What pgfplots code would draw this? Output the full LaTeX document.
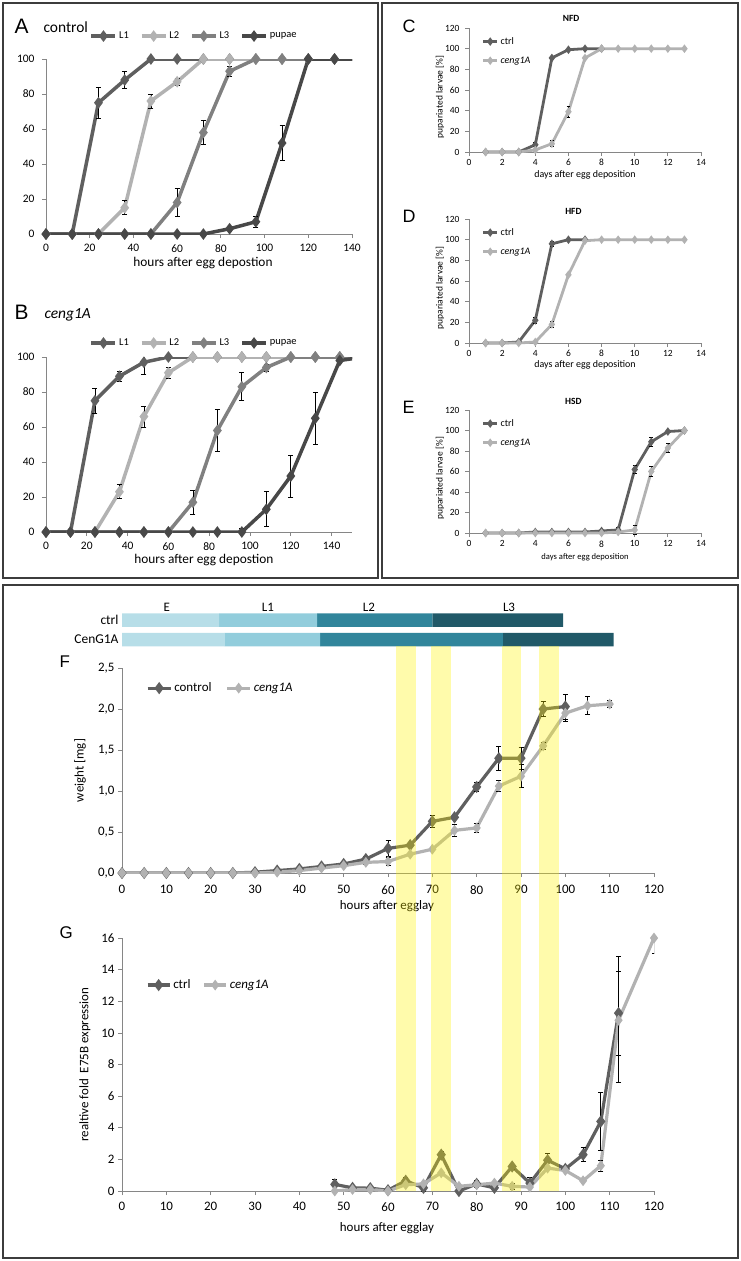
\documentclass[border=0pt]{standalone}
\usepackage{fontspec}
\setmainfont{Carlito}
\newfontfamily\panelfont{Liberation Sans}
\usepackage{pgfplots}
\pgfplotsset{compat=1.18}

\definecolor{cdark}{RGB}{95,95,95}
\definecolor{clight}{RGB}{178,178,178}
\definecolor{cmid}{RGB}{128,128,128}
\definecolor{cpup}{RGB}{72,72,72}
\definecolor{axgray}{RGB}{134,134,134}
\definecolor{boxgray}{RGB}{60,60,60}
\definecolor{phE}{RGB}{183,222,232}
\definecolor{phLa}{RGB}{146,205,220}
\definecolor{phLb}{RGB}{49,133,155}
\definecolor{phLc}{RGB}{33,89,104}
\definecolor{band}{RGB}{255,242,0}

\newcommand{\fs}[1]{\fontsize{#1}{#1}\selectfont}

\pgfplotsset{
  exc/.style={
    scale only axis, anchor=south west,
    axis x line*=bottom, axis y line*=left,
    axis line style={axgray, line width=0.8bp},
    tick style={axgray, line width=0.8bp},
    tick align=outside, major tick length=4bp,
    /pgf/number format/assume math mode=true,
    /pgf/number format/1000 sep={},
    legend style={draw=none, fill=none, inner sep=1bp},
    legend cell align=left,
    xlabel style={anchor=center}, ylabel style={anchor=center},
  },
  lgimg/.style={legend image code/.code={%
    \draw[mark repeat=2,mark phase=2,##1] plot coordinates {(0bp,0bp) (#1/2,0bp) (#1,0bp)};}},
  ebar/.style={draw=none, mark=none, forget plot,
    error bars/.cd, y dir=both, y explicit, error mark=-,
    error bar style={draw=black, solid, line width=0.7bp},
    error mark options={rotate=90, draw=black, solid, line width=0.7bp, mark size=#1}},
  ebar/.default=2.5bp,
}

\begin{document}
\begin{tikzpicture}[x=1bp,y=1bp]
\useasboundingbox (0,0) rectangle (741,-1261);
\draw[boxgray, line width=1.5bp] (3,-3) rectangle (378,-578);
\draw[boxgray, line width=1.5bp] (382,-3) rectangle (738,-578);
\draw[boxgray, line width=1.5bp] (3,-585) rectangle (738,-1258);

% ---------- A ----------
\node[anchor=base west, font=\panelfont\fs{21}] at (11,-33) {A};
\node[anchor=base west, font=\fs{15.5}] at (40,-32) {control};
\begin{axis}[exc, at={(46bp,-234bp)}, width=306bp, height=175bp,
  xmin=0, xmax=140, ymin=0, ymax=100,
  xtick={0,20,...,140}, ytick={0,20,...,100},
  ticklabel style={font=\fs{11.5}},
  xticklabel style={yshift=-3bp}, yticklabel style={xshift=-4bp},
  xlabel={hours after egg depostion},
  xlabel style={font=\fs{13.4}, at={(axis description cs:0.513,-0.166)}},
  legend columns=4, lgimg=24bp,
  legend style={at={(axis description cs:0.484,1.131)}, anchor=center, font=\fs{10.5},
    /tikz/every even column/.append style={column sep=9bp}}]
\addplot[cdark, line width=3.5bp, mark=diamond*, mark size=3bp] coordinates {
  (0,0)(12,0)(24,75)(36,88)(48,100)(60,100)(72,100)(84,100)(96,100)(108,100)(120,100)(132,100)(144,100)};
\addlegendentry{L1}
\addplot[clight, line width=3.5bp, mark=diamond*, mark size=3bp] coordinates {
  (0,0)(12,0)(24,0)(36,15)(48,76)(60,87)(72,100)(84,100)(96,100)(108,100)(120,100)(132,100)(144,100)};
\addlegendentry{L2}
\addplot[cmid, line width=3.5bp, mark=diamond*, mark size=3bp] coordinates {
  (0,0)(12,0)(24,0)(36,0)(48,0)(60,18)(72,58)(84,93)(96,100)(108,100)(120,100)(132,100)(144,100)};
\addlegendentry{L3}
\addplot[cpup, line width=3.5bp, mark=diamond*, mark size=3bp] coordinates {
  (0,0)(12,0)(24,0)(36,0)(48,0)(60,0)(72,0)(84,3)(96,7)(108,52)(120,100)(132,100)(144,100)};
\addlegendentry{pupae}
\addplot[ebar] coordinates {
  (24,75) +- (0,9) (36,88) +- (0,5)
  (36,15) +- (0,4) (48,76) +- (0,4) (60,87) +- (0,2)
  (60,18) +- (0,8) (72,58) +- (0,7) (84,93) +- (0,3)
  (84,3) +- (0,1) (96,7) +- (0,3) (108,52) +- (0,10)};
\end{axis}

% ---------- B ----------
\node[anchor=base west, font=\panelfont\fs{21}] at (11,-319) {B};
\node[anchor=base west, font=\fs{15.5}\itshape] at (41,-318) {ceng1A};
\begin{axis}[exc, at={(46bp,-532bp)}, width=306bp, height=175bp,
  xmin=0, xmax=150, ymin=0, ymax=100,
  xtick={0,20,...,140}, ytick={0,20,...,100},
  ticklabel style={font=\fs{11.5}},
  xticklabel style={yshift=-3bp}, yticklabel style={xshift=-4bp},
  xlabel={hours after egg depostion},
  xlabel style={font=\fs{13.4}, at={(axis description cs:0.516,-0.16)}},
  legend columns=4, lgimg=24bp,
  legend style={at={(axis description cs:0.484,1.08)}, anchor=center, font=\fs{10.5},
    /tikz/every even column/.append style={column sep=9bp}}]
\addplot[cdark, line width=3.5bp, mark=diamond*, mark size=3bp] coordinates {
  (0,0)(12,0)(24,75)(36,89)(48,97)(60,100)(72,100)(84,100)(96,100)(108,100)(120,100)(132,100)(144,100)(156,100)};
\addlegendentry{L1}
\addplot[clight, line width=3.5bp, mark=diamond*, mark size=3bp] coordinates {
  (0,0)(12,0)(24,0)(36,23)(48,66)(60,91)(72,100)(84,100)(96,100)(108,100)(120,100)(132,100)(144,100)(156,100)};
\addlegendentry{L2}
\addplot[cmid, line width=3.5bp, mark=diamond*, mark size=3bp] coordinates {
  (0,0)(12,0)(24,0)(36,0)(48,0)(60,0)(72,17)(84,58)(96,83)(108,94)(120,100)(132,100)(144,100)(156,100)};
\addlegendentry{L3}
\addplot[cpup, line width=3.5bp, mark=diamond*, mark size=3bp] coordinates {
  (0,0)(12,0)(24,0)(36,0)(48,0)(60,0)(72,0)(84,0)(96,0)(108,13)(120,32)(132,65)(144,98)(156,100)};
\addlegendentry{pupae}
\addplot[ebar] coordinates {
  (24,75) +- (0,7) (36,89) +- (0,3) (48,97) +- (0,7)
  (36,23) +- (0,4) (48,66) +- (0,6) (60,91) +- (0,3)
  (72,17) +- (0,7) (84,58) +- (0,12) (96,83) +- (0,8) (108,94) +- (0,2)
  (96,0) +- (0,2) (108,13) +- (0,10) (120,32) +- (0,12) (132,65) +- (0,15)};
\end{axis}

% ---------- C, D, E ----------
\pgfplotsset{cde/.style={exc, width=232bp, height=124bp,
  xmin=0, xmax=14, ymin=0, ymax=120, clip=false,
  xtick={0,2,...,14}, ytick={0,20,...,120},
  ticklabel style={font=\fs{9.5}}, yticklabel style={xshift=-2bp},
  xlabel={days after egg deposition},
  ylabel={pupariated larvae [\%]},
  ylabel style={font=\fs{9.5}, at={(axis description cs:-0.125,0.445)}},
  title style={font=\bfseries\fs{9.5}, anchor=center},
  lgimg=14bp,
  legend style={at={(axis description cs:0.05,0.95)}, anchor=north west, font=\fs{10}, row sep=7bp}}}

\node[anchor=base west, font=\panelfont\fs{18}] at (399,-32) {C};
\begin{axis}[cde, at={(469bp,-152bp)},
  title={NFD}, title style={at={(axis description cs:0.44,1.03)}},
  xlabel style={font=\fs{10}, at={(axis description cs:0.5,-0.185)}}]
\addplot[cdark, line width=2.8bp, mark=diamond*, mark size=2bp] coordinates {
  (1,0)(2,0)(3,0)(4,7)(5,91)(6,99)(7,100)(8,100)};
\addlegendentry{ctrl}
\addplot[clight, line width=2.8bp, mark=diamond*, mark size=2bp] coordinates {
  (1,0)(2,0)(3,0)(4,2)(5,8)(6,39)(7,91)(8,100)(9,100)(10,100)(11,100)(12,100)(13,100)};
\addlegendentry{\textit{ceng1A}}
\addplot[ebar=1.8bp] coordinates {(4,7) +- (0,2) (5,8) +- (0,3) (6,39) +- (0,5)};
\end{axis}

\node[anchor=base west, font=\panelfont\fs{18}] at (399,-222) {D};
\begin{axis}[cde, at={(469bp,-343bp)},
  title={HFD}, title style={at={(axis description cs:0.45,1.016)}},
  xlabel style={font=\fs{10}, at={(axis description cs:0.5,-0.177)}}]
\addplot[cdark, line width=2.8bp, mark=diamond*, mark size=2bp] coordinates {
  (1,0)(2,0)(3,1)(4,22)(5,96)(6,100)(7,100)};
\addlegendentry{ctrl}
\addplot[clight, line width=2.8bp, mark=diamond*, mark size=2bp] coordinates {
  (1,0)(2,0)(3,0)(4,1)(5,18)(6,66)(7,99)(8,100)(9,100)(10,100)(11,100)(12,100)(13,100)};
\addlegendentry{\textit{ceng1A}}
\addplot[ebar=1.8bp] coordinates {(4,22) +- (0,3) (5,96) +- (0,2) (5,18) +- (0,3)};
\end{axis}

\node[anchor=base west, font=\panelfont\fs{18}] at (399,-413) {E};
\begin{axis}[cde, at={(469bp,-533bp)}, height=123bp,
  title={HSD}, title style={at={(axis description cs:0.45,1.024)}},
  xlabel style={font=\fs{8.6}, at={(axis description cs:0.5,-0.195)}}]
\addplot[cdark, line width=2.8bp, mark=diamond*, mark size=2bp] coordinates {
  (1,0)(2,0)(3,0)(4,1)(5,1)(6,1)(7,1)(8,2)(9,3)(10,62)(11,89)(12,99)(13,100)};
\addlegendentry{ctrl}
\addplot[clight, line width=2.8bp, mark=diamond*, mark size=2bp] coordinates {
  (1,0)(2,0)(3,0)(4,0)(5,0)(6,0)(7,0)(8,0)(9,1)(10,3)(11,60)(12,83)(13,100)};
\addlegendentry{\textit{ceng1A}}
\addplot[ebar=1.8bp] coordinates {(9,3) +- (0,3) (10,62) +- (0,4) (11,89) +- (0,4)
  (10,3) +- (0,4) (11,60) +- (0,5) (12,83) +- (0,4)};
\end{axis}

% ---------- stage bars ----------
\begin{axis}[scale only axis, anchor=south west, at={(122bp,-646bp)},
  width=532bp, height=33bp, xmin=0, xmax=120, ymin=-0.333, ymax=1.359,
  xbar stacked, bar width=13.5bp, hide x axis,
  axis y line*=left, y axis line style={draw=none}, major tick length=0pt,
  ytick={0,1}, yticklabels={CenG1A,ctrl}, yticklabel style={font=\fs{13.5}},
  clip=false]
\addplot[fill=phE, draw=none] coordinates {(21.9,1) (23.1,0)};
\addplot[fill=phLa, draw=none] coordinates {(22.1,1) (21.6,0)};
\addplot[fill=phLb, draw=none] coordinates {(26.0,1) (41.2,0)};
\addplot[fill=phLc, draw=none] coordinates {(29.5,1) (25.0,0)};
\node[font=\fs{13}] at (axis cs:10.1,1.67) {E};
\node[font=\fs{13}] at (axis cs:32.9,1.67) {L1};
\node[font=\fs{13}] at (axis cs:55.7,1.67) {L2};
\node[font=\fs{13}] at (axis cs:87.3,1.67) {L3};
\end{axis}

% ---------- F ----------
\node[anchor=base west, font=\panelfont\fs{17}] at (56,-667) {F};
\begin{axis}[exc, at={(122bp,-873bp)}, width=532bp, height=205bp,
  xmin=0, xmax=120, ymin=0, ymax=2.5,
  xtick={0,10,...,120}, ytick={0,0.5,1,1.5,2,2.5},
  yticklabel style={/pgf/number format/.cd, fixed, fixed zerofill, precision=1, use comma},
  ticklabel style={font=\fs{13}}, xticklabel style={yshift=-5bp},
  xlabel={hours after egglay}, ylabel={weight [mg]},
  xlabel style={font=\fs{13}, at={(axis description cs:0.498,-0.161)}},
  ylabel style={font=\fs{13}, at={(axis description cs:-0.079,0.5)}},
  lgimg=23bp, legend columns=2,
  legend style={at={(axis description cs:0.043,0.902)}, anchor=west, font=\fs{13},
    /tikz/every even column/.append style={column sep=12bp}}]
\addplot[cdark, line width=3.2bp, mark=diamond*, mark size=3.5bp] coordinates {
  (0,0)(5,0)(10,0)(15,0)(20,0)(25,0)(30,0.01)(35,0.03)(40,0.05)(45,0.08)(50,0.11)
  (55,0.17)(60,0.30)(65,0.34)(70,0.63)(75,0.68)(80,1.05)(85,1.40)(90,1.40)(95,2.00)(100,2.03)};
\addlegendentry{control}
\addplot[clight, line width=3.2bp, mark=diamond*, mark size=2.8bp] coordinates {
  (0,0)(5,0)(10,0)(15,0)(20,0)(25,0)(30,0)(35,0.01)(40,0.03)(45,0.06)(50,0.09)
  (55,0.13)(60,0.14)(65,0.23)(70,0.29)(75,0.52)(80,0.55)(85,1.06)(90,1.18)(95,1.55)(100,1.95)(105,2.04)(110,2.06)};
\addlegendentry{\textit{ceng1A}}
\addplot[ebar] coordinates {
  (55,0.17) +- (0,0.03) (60,0.30) +- (0,0.10) (70,0.63) +- (0,0.07) (75,0.68) +- (0,0.03)
  (80,1.05) +- (0,0.05) (85,1.40) +- (0,0.15) (90,1.40) +- (0,0.13) (95,2.00) +- (0,0.09)
  (100,2.03) +- (0,0.15)
  (55,0.13) +- (0,0.03) (60,0.14) +- (0,0.05) (75,0.52) +- (0,0.07) (80,0.55) +- (0,0.06)
  (85,1.06) +- (0,0.07) (90,1.18) +- (0,0.14) (95,1.55) +- (0,0.04) (100,1.95) +- (0,0.10)
  (105,2.04) +- (0,0.11) (110,2.06) +- (0,0.04)};
\end{axis}

% ---------- G ----------
\node[anchor=base west, font=\panelfont\fs{17}] at (56,-938) {G};
\begin{axis}[exc, at={(122bp,-1191bp)}, width=532bp, height=253bp,
  xmin=0, xmax=120, ymin=0, ymax=16,
  xtick={0,10,...,120}, ytick={0,2,...,16},
  ticklabel style={font=\fs{13}}, xticklabel style={yshift=-4bp},
  xlabel={hours after egglay}, ylabel={realtive fold~ E75B expression},
  xlabel style={font=\fs{13}, at={(axis description cs:0.498,-0.146)}},
  ylabel style={font=\fs{13}, at={(axis description cs:-0.0695,0.5)}},
  lgimg=22bp, legend columns=2,
  legend style={at={(axis description cs:0.043,0.814)}, anchor=west, font=\fs{13},
    /tikz/every even column/.append style={column sep=10bp}}]
\addplot[cdark, line width=3.2bp, mark=diamond*, mark size=3.5bp] coordinates {
  (48,0.42)(52,0.2)(56,0.18)(60,0.05)(64,0.65)(68,0.2)(72,2.3)(76,0.0)(80,0.45)(84,0.2)
  (88,1.55)(92,0.5)(96,1.95)(100,1.4)(104,2.3)(108,4.4)(112,11.25)};
\addlegendentry{ctrl}
\addplot[clight, line width=3.2bp, mark=diamond*, mark size=2.8bp] coordinates {
  (48,0)(52,0.1)(56,0.1)(60,0)(64,0.4)(68,0.45)(72,1.15)(76,0.3)(80,0.4)(84,0.5)
  (88,0.3)(92,0.25)(96,1.45)(100,1.3)(104,0.65)(108,1.6)(112,10.8)(120,16)};
\addlegendentry{\textit{ceng1A}}
\addplot[ebar] coordinates {
  (48,0.42) +- (0,0.3) (64,0.65) +- (0,0.2) (68,0.2) +- (0,0.2) (72,2.3) +- (0,0.2)
  (80,0.45) +- (0,0.2) (88,1.55) +- (0,0.15) (92,0.5) +- (0,0.35) (96,1.95) +- (0,0.45)
  (104,2.3) +- (0,0.45) (108,4.4) +- (0,1.85) (112,11.25) += (0,3.6) -= (0,2.7)
  (88,0.3) +- (0,0.2) (108,1.6) +- (0,0.35) (112,10.8) += (0,3.1) -= (0,3.9) (120,16) +- (0,1)};
\end{axis}

% ---------- highlighted windows ----------
\begin{axis}[scale only axis, anchor=south west, at={(122bp,-1191bp)},
  width=532bp, height=545bp, xmin=0, xmax=120, ymin=0, ymax=1, hide axis]
\addplot[draw=none, fill=band, fill opacity=0.33] coordinates {(61.9,1) (66.3,1)} \closedcycle;
\addplot[draw=none, fill=band, fill opacity=0.33] coordinates {(69.8,1) (74.2,1)} \closedcycle;
\addplot[draw=none, fill=band, fill opacity=0.33] coordinates {(85.7,1) (90.1,1)} \closedcycle;
\addplot[draw=none, fill=band, fill opacity=0.33] coordinates {(94.0,1) (98.5,1)} \closedcycle;
\end{axis}
\end{tikzpicture}
\end{document}
